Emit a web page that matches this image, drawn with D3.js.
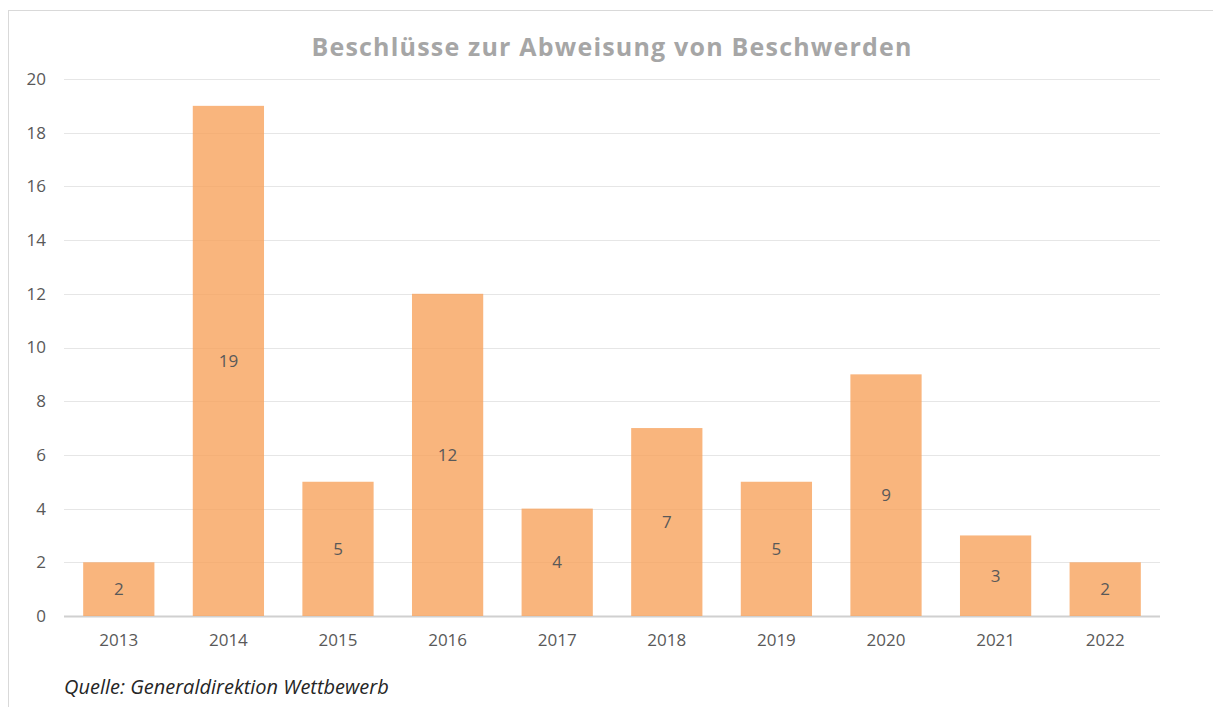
<!DOCTYPE html>
<html>
<head>
<meta charset="utf-8">
<script src="https://cdn.jsdelivr.net/npm/d3@7"></script>
<style>
body { margin: 0; background: #fff; }
#vis { width: 1213px; height: 707px; }
text { font-family: 'Open Sans', sans-serif; }
</style>
</head>
<body>
<div id="vis"></div>
<script>
var years = ['2013', '2014', '2015', '2016', '2017', '2018', '2019', '2020', '2021', '2022'];
var values = [2, 19, 5, 12, 4, 7, 5, 9, 3, 2];
var y_ticks = [0, 2, 4, 6, 8, 10, 12, 14, 16, 18, 20];

var width = 1213, height = 707;
var margin = { top: 79, bottom: 91, left: 64, right: 53 };
var svg = d3.select('#vis').append('svg').attr('width', width).attr('height', height);

// outer frame
svg.append('rect').attr('x', 8.5).attr('y', 10.5).attr('width', 1220).attr('height', 720)
	.attr('fill', 'none').attr('stroke', '#d9d9d9');

var w = width - margin.left - margin.right;
var h = height - margin.top - margin.bottom;
var g = svg.append('g').attr('transform', 'translate(' + margin.left + ',' + margin.top + ')');

var x_scale = d3.scaleBand().domain(years).range([0, w]).paddingInner(0.35).paddingOuter(0.175);
var y_scale = d3.scaleLinear().domain([0, 20]).range([h, 0]);

g.selectAll('.grid').data(y_ticks).enter().append('line').attr('class', 'grid')
	.attr('x1', 0).attr('x2', w)
	.attr('y1', function(d) { return Math.round(y_scale(d)) + 0.5; })
	.attr('y2', function(d) { return Math.round(y_scale(d)) + 0.5; })
	.attr('stroke', function(d) { return d === 0 ? '#d0d0d0' : '#e6e6e6'; })
	.attr('stroke-width', function(d) { return d === 0 ? 2 : 1; });

var y_axis = d3.axisLeft(y_scale).tickValues(y_ticks).tickSize(0).tickPadding(18);
g.append('g').attr('class', 'y axis').call(y_axis)
	.call(function(s) { s.select('.domain').remove(); })
	.selectAll('text').attr('font-size', '17px').attr('fill', '#595959').attr('font-family', "'Open Sans', sans-serif");

var x_axis = d3.axisBottom(x_scale).tickSize(0).tickPadding(18);
g.append('g').attr('class', 'x axis').attr('transform', 'translate(0,' + h + ')').call(x_axis)
	.call(function(s) { s.select('.domain').remove(); })
	.selectAll('text').attr('font-size', '17px').attr('fill', '#595959').attr('font-family', "'Open Sans', sans-serif");

g.selectAll('.bar').data(values).enter().append('rect').attr('class', 'bar')
	.attr('x', function(d, i) { return x_scale(years[i]); })
	.attr('width', x_scale.bandwidth())
	.attr('y', function(d) { return y_scale(d); })
	.attr('height', function(d) { return h - y_scale(d); })
	.attr('fill', '#f7a35c').attr('fill-opacity', 0.8);

g.selectAll('.label').data(values).enter().append('text').attr('class', 'label')
	.attr('x', function(d, i) { return x_scale(years[i]) + x_scale.bandwidth() / 2; })
	.attr('y', function(d) { return (y_scale(d) + h) / 2; })
	.attr('dy', '0.35em').attr('text-anchor', 'middle')
	.attr('font-size', '17px').attr('fill', '#595959')
	.text(function(d) { return d; });

svg.append('text').attr('x', 612).attr('y', 56).attr('text-anchor', 'middle')
	.attr('font-size', '25px').attr('font-weight', 'bold').attr('fill', '#a6a6a6')
	.attr('letter-spacing', '1.2px')
	.text('Beschlüsse zur Abweisung von Beschwerden');

svg.append('text').attr('x', 64).attr('y', 694)
	.attr('font-size', '20px').attr('font-style', 'italic').attr('fill', '#262626')
	.text('Quelle: Generaldirektion Wettbewerb');
</script>
</body>
</html>
